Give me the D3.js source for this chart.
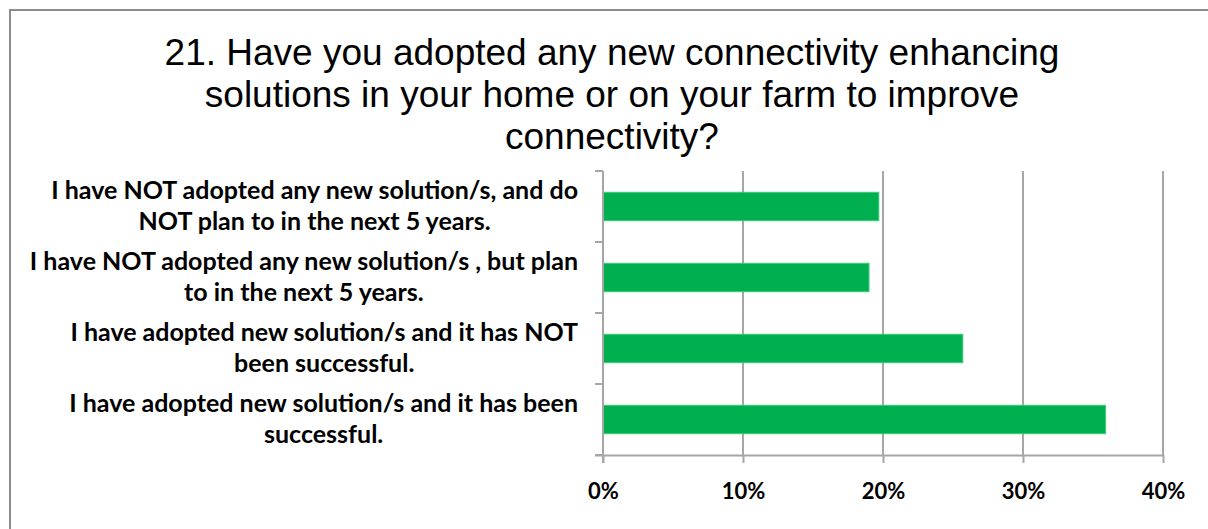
<!DOCTYPE html>
<html>
<head>
<meta charset="utf-8">
<script src="https://cdn.jsdelivr.net/npm/d3@7/dist/d3.min.js"></script>
<style>
  html, body { margin: 0; padding: 0; background: #fff; }
  svg { display: block; }
</style>
</head>
<body>
<svg id="chart" width="1208" height="529"></svg>
<script>
// Survey question 21: adoption of connectivity-enhancing solutions
const titleLines = [
  "21. Have you adopted any new connectivity enhancing",
  "solutions in your home or on your farm to improve",
  "connectivity?"
];
// Categories listed top to bottom, each split into its display lines
const categories = [
  "I have NOT adopted any new solution/s, and do NOT plan to in the next 5 years.",
  "I have NOT adopted any new solution/s , but plan to in the next 5 years.",
  "I have adopted new solution/s and it has NOT been successful.",
  "I have adopted new solution/s and it has been successful."
];
const categoryLines = [
  ["I have NOT adopted any new solution/s, and do", "NOT plan to in the next 5 years."],
  ["I have NOT adopted any new solution/s , but plan", "to in the next 5 years."],
  ["I have adopted new solution/s and it has NOT", "been successful."],
  ["I have adopted new solution/s and it has been", "successful."]
];
const shares = [0.197, 0.190, 0.257, 0.359];
const xTicks = [0, 0.1, 0.2, 0.3, 0.4];

const svg = d3.select("#chart");
const plot = { left: 603, right: 1163, top: 171, bottom: 455 };

// chart frame (top and left edges)
svg.append("path")
  .attr("d", "M10,529 V10 H1208")
  .attr("fill", "none")
  .attr("stroke", "#8c8c8c")
  .attr("stroke-width", 2);

// title
svg.append("g").selectAll("text")
  .data(titleLines)
  .join("text")
  .attr("x", 612)
  .attr("y", (d, i) => 65 + i * 42)
  .attr("text-anchor", "middle")
  .attr("font-family", "'Liberation Sans', Arial, sans-serif")
  .attr("font-size", 37)
  .attr("fill", "#000")
  .text(d => d);

const x = d3.scaleLinear().domain([0, 0.4]).range([plot.left, plot.right]);
const y = d3.scaleBand().domain(categories).range([plot.top, plot.bottom]).paddingInner(0.6).paddingOuter(0.3);
const yBand = d3.scaleBand().domain(categories).range([plot.top, plot.bottom]);

const gridColor = "#a6a6a6";

// vertical gridlines
svg.append("g").selectAll("line")
  .data(xTicks.slice(1))
  .join("line")
  .attr("x1", d => x(d)).attr("x2", d => x(d))
  .attr("y1", plot.top).attr("y2", plot.bottom)
  .attr("stroke", gridColor).attr("stroke-width", 2);

// bars
svg.append("g").selectAll("rect")
  .data(categories)
  .join("rect")
  .attr("x", x(0))
  .attr("y", d => y(d))
  .attr("width", (d, i) => x(shares[i]) - x(0))
  .attr("height", y.bandwidth())
  .attr("fill", "#00b050")
  .attr("stroke", "#3cc878")
  .attr("stroke-width", 1);

// x axis
const xAxis = svg.append("g")
  .attr("transform", `translate(0,${plot.bottom})`)
  .call(d3.axisBottom(x).tickValues(xTicks).tickFormat(d3.format(".0%")).tickSize(8).tickPadding(20));
xAxis.select(".domain").attr("stroke", gridColor).attr("stroke-width", 2).attr("d", `M${plot.left - 8},0.5H${plot.right}`);
xAxis.selectAll(".tick line").attr("stroke", gridColor).attr("stroke-width", 2);
xAxis.selectAll(".tick text")
  .attr("font-family", "Lato, 'Open Sans', sans-serif")
  .attr("font-weight", 700)
  .attr("font-size", 22)
  .attr("fill", "#000");

// y axis: ticks at category boundaries
const boundaries = categories.map(c => yBand(c)).concat([plot.bottom]);
svg.append("g").selectAll("line")
  .data(boundaries)
  .join("line")
  .attr("x1", plot.left - 8).attr("x2", plot.left)
  .attr("y1", d => d).attr("y2", d => d)
  .attr("stroke", gridColor).attr("stroke-width", 2);
svg.append("line")
  .attr("x1", plot.left).attr("x2", plot.left)
  .attr("y1", plot.top).attr("y2", plot.bottom + 8)
  .attr("stroke", gridColor).attr("stroke-width", 2);

// category labels: centred blocks whose widest line ends at the axis gutter
const labelRight = 578;
const labelGroups = svg.append("g").selectAll("g")
  .data(categories)
  .join("g");
labelGroups.each(function(d, i) {
  const g = d3.select(this);
  const lines = categoryLines[i];
  const cy = yBand(d) + yBand.bandwidth() / 2;
  const texts = g.selectAll("text")
    .data(lines)
    .join("text")
    .attr("y", (l, j) => cy + (j - (lines.length - 1) / 2) * 31 + 8)
    .attr("text-anchor", "middle")
    .attr("font-family", "Lato, 'Open Sans', sans-serif")
    .attr("font-weight", 700)
    .attr("font-size", 25)
    .attr("fill", "#000")
    .text(l => l);
  let maxW = 0;
  texts.each(function() { maxW = Math.max(maxW, this.getComputedTextLength()); });
  texts.attr("x", labelRight - maxW / 2);
});
</script>
</body>
</html>
